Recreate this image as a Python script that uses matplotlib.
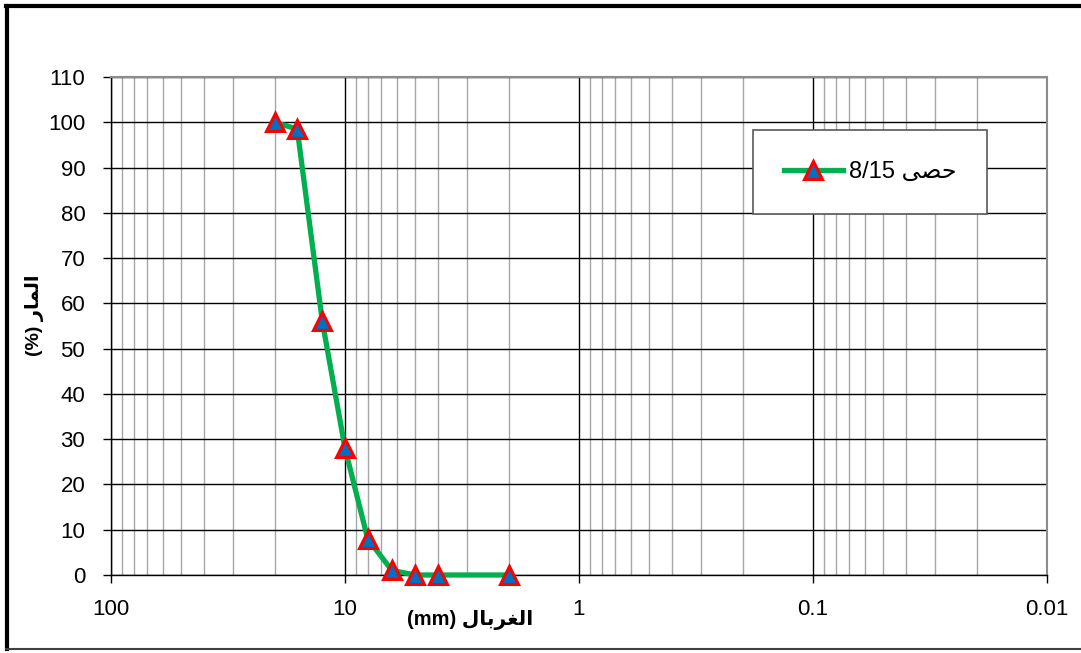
import matplotlib
matplotlib.use("Agg")
import matplotlib.pyplot as plt
from matplotlib.lines import Line2D
from matplotlib.ticker import FixedLocator, NullFormatter

# Data (sieve size in mm, percent passing)
sieve_mm = [20, 16, 12.5, 10, 8, 6.3, 5, 4, 2]
passing = [100, 98.5, 56, 28, 8, 1, 0, 0, 0]
series_label = "8/15 " + "\uFEF0\uFEBC\uFEA3"          # حصى 8/15 (visual order)
x_label = "(mm) " + "\uFEDD\uFE8E\uFE91\uFEAE\uFED0\uFEDF\uFE8D"  # الغربال (mm)
y_label = "(%) " + "\uFEAD\uFE8E\uFEE4\uFEDF\uFE8D"   # المار (%)
x_ticks = [100, 10, 1, 0.1, 0.01]
x_ticklabels = ["100", "10", "1", "0.1", "0.01"]
y_ticks = list(range(0, 111, 10))

fam = ["Liberation Sans", "DejaVu Sans"]
plt.rcParams["font.family"] = fam

W, H = 1081, 653
fig = plt.figure(figsize=(W / 100, H / 100), dpi=100)
ax = fig.add_axes([111 / W, 1 - 575 / H, (1047 - 111) / W, (575 - 77) / H])

ax.set_xscale("log")
ax.set_xlim(100, 0.01)
ax.set_ylim(0, 110)

ax.xaxis.set_major_locator(FixedLocator(x_ticks))
ax.set_xticklabels(x_ticklabels)
minors = [m * 10.0 ** e for e in range(-2, 2) for m in range(2, 10)]
ax.xaxis.set_minor_locator(FixedLocator(minors))
ax.xaxis.set_minor_formatter(NullFormatter())
ax.set_yticks(y_ticks)

ax.grid(which="major", axis="both", color="black", lw=1.0, zorder=1)
ax.grid(which="minor", axis="x", color="#a6a6a6", lw=1.0, zorder=0)
ax.set_axisbelow(True)

ax.tick_params(axis="both", which="major", labelsize=16, direction="out", length=6, width=1, color="black")
ax.tick_params(axis="y", which="major", pad=12.5)
ax.tick_params(axis="x", which="major", pad=11)
ax.tick_params(axis="x", which="minor", length=0)

for s in ["left", "bottom"]:
    ax.spines[s].set_color("black")
    ax.spines[s].set_linewidth(1.0)
for s in ["top", "right"]:
    ax.spines[s].set_color("#8c8c8c")
    ax.spines[s].set_linewidth(1.5)

ax.plot(sieve_mm, passing, color="#00B050", lw=3.8, marker="^", markersize=13,
        markerfacecolor="#0070C0", markeredgecolor="#FF0000", markeredgewidth=2.2,
        label=series_label, zorder=5, clip_on=False)

ax.set_xlabel(x_label, fontsize=14.5, fontweight="bold")
ax.set_ylabel(y_label, fontsize=14, fontweight="bold")
ax.xaxis.set_label_coords((470 - 111) / (1047 - 111), -(610 - 575) / (575 - 77))
ax.yaxis.set_label_coords(-(111 - 44) / (1047 - 111), (575 - 315) / (575 - 77))

leg = ax.legend(loc="center", bbox_to_anchor=(870 / W, 1 - 172 / H), bbox_transform=fig.transFigure,
                fontsize=17, frameon=True, fancybox=False, borderpad=1.3, handlelength=2.5,
                handletextpad=0.25, markerscale=1.0)
leg.get_frame().set_edgecolor("#595959")
leg.get_frame().set_linewidth(1.2)
leg.get_frame().set_alpha(1)

# outer chart border
fig.add_artist(Line2D([7 / W, 7 / W], [1 - 6 / H, 1 - 649 / H], transform=fig.transFigure, color="black", lw=3))
fig.add_artist(Line2D([6 / W, 1 - 0 / W], [1 - 6 / H, 1 - 6 / H], transform=fig.transFigure, color="black", lw=3))
fig.add_artist(Line2D([6 / W, 1], [1 - 649 / H, 1 - 649 / H], transform=fig.transFigure, color="#404040", lw=1.5))

fig.savefig("out.png", dpi=100)
